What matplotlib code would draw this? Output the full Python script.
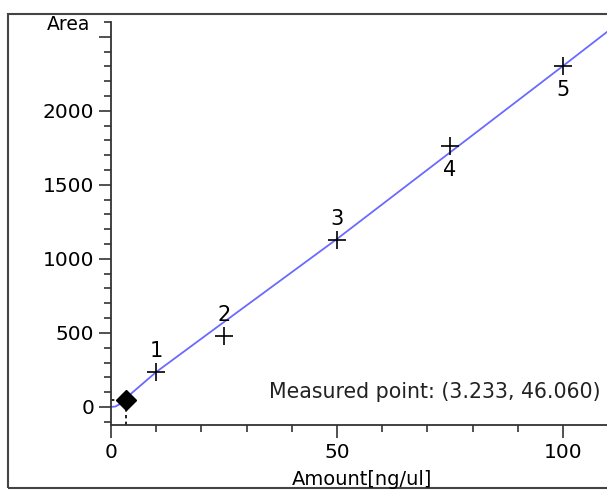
import matplotlib
matplotlib.use('Agg')
import matplotlib.pyplot as plt
from matplotlib.patches import Rectangle
from matplotlib.ticker import MultipleLocator, FuncFormatter

# Standard points (amount, area) and their labels
std_amount = [10, 25, 50, 75, 100]
std_area = [234, 480, 1128, 1762, 2300]
std_labels = ["1", "2", "3", "4", "5"]

# Calibration curve
curve_amount = [0, 1, 2, 3.233, 10, 25, 50, 100, 110]
curve_area = [0, 3, 20, 58, 236, 574, 1135, 2304, 2540]

# Measured point
meas_amount = 3.233
meas_area = 46.060

fig = plt.figure(figsize=(6.07, 4.90), dpi=100)
ax = fig.add_axes([111 / 607, 1 - 425 / 490, 1 - 111 / 607, 403 / 490])

ax.plot(curve_amount, curve_area, color="#6a6aff", lw=1.3, zorder=2)
ax.plot(std_amount, std_area, ls="none", marker="+", ms=13, mew=1.2, color="black", zorder=3)

# label offsets: first three above, last two below
for i, (x, y, lab) in enumerate(zip(std_amount, std_area, std_labels)):
    if i < 3:
        ax.annotate(lab, (x, y), xytext=(0, 8), textcoords="offset points",
                    ha="center", va="bottom", fontsize=15)
    else:
        ax.annotate(lab, (x, y), xytext=(0, -10), textcoords="offset points",
                    ha="center", va="top", fontsize=15)

ax.plot([meas_amount, meas_amount], [-122, meas_area], color="black", ls=(0, (2, 2)), lw=1.2, zorder=2)
ax.plot([0, meas_amount], [meas_area, meas_area], color="black", ls=(0, (2, 2)), lw=1.2, zorder=2)
ax.plot([meas_amount], [meas_area], marker="D", ms=10.5, color="black", ls="none", zorder=4)

ax.text(0.988, 0.082, "Measured point: (%.3f, %.3f)" % (meas_amount, meas_area),
        transform=ax.transAxes, ha="right", va="center", fontsize=14.8, color="#222222")

ax.set_xlim(0, 109.7)
ax.set_ylim(-122, 2600)
ax.xaxis.set_major_locator(MultipleLocator(50))
ax.xaxis.set_minor_locator(MultipleLocator(10))
ax.yaxis.set_major_locator(MultipleLocator(500))
ax.yaxis.set_minor_locator(MultipleLocator(100))
# the top major tick carries no label (axis title sits there)
ax.yaxis.set_major_formatter(FuncFormatter(lambda v, p: "" if v > 2400 else "%d" % v))
ax.tick_params(which="major", length=9, width=1.2, labelsize=14.5, color="#333333")
ax.tick_params(which="minor", length=5, width=1.2, color="#333333")
ax.tick_params(axis="x", pad=4)
ax.tick_params(axis="y", pad=3)

for side in ["top", "right"]:
    ax.spines[side].set_visible(False)
for side in ["left", "bottom"]:
    ax.spines[side].set_linewidth(1.3)
    ax.spines[side].set_color("#333333")

fig.text(90 / 607, 1 - 25 / 490, "Area", ha="right", va="center", fontsize=13.5)
fig.text(362 / 607, 1 - 479 / 490, "Amount[ng/ul]", ha="center", va="center", fontsize=14)

# outer frame
fig.patches.append(Rectangle((8 / 607, 1 - 488 / 490), 1.0, 474 / 490, transform=fig.transFigure,
                             fill=False, lw=1.5, edgecolor="#444444"))

fig.savefig("out.png", dpi=100)
